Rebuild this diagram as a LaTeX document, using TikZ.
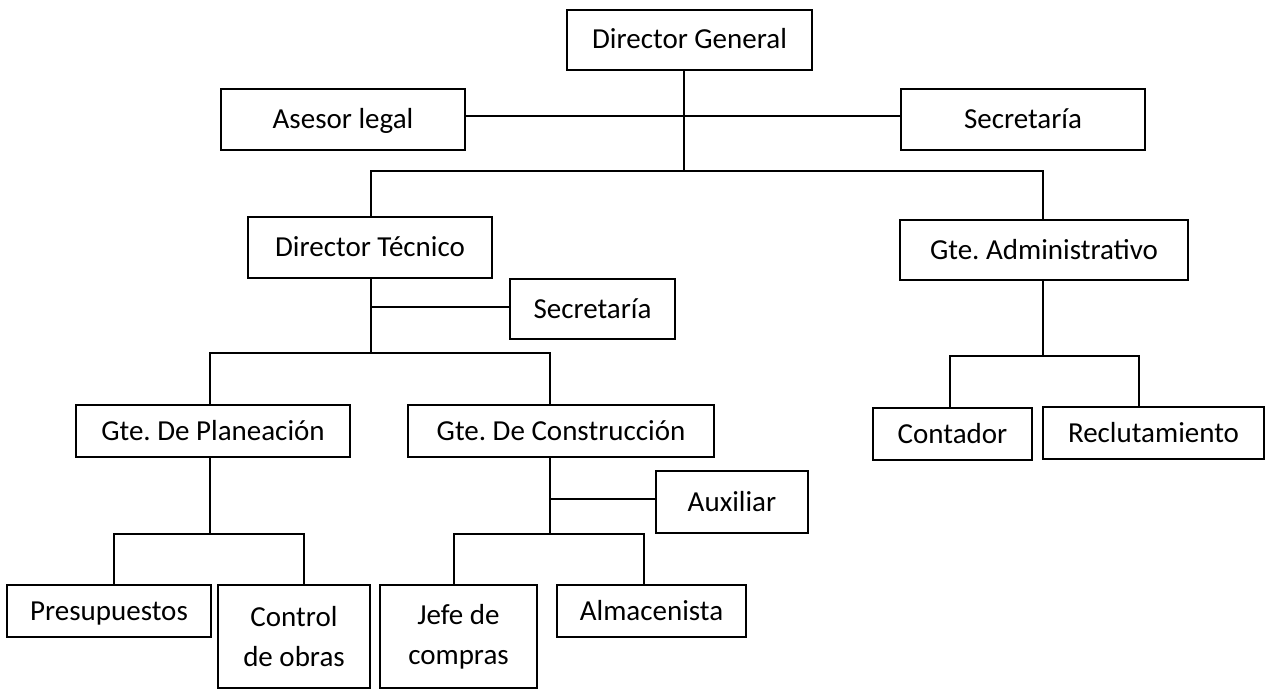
\documentclass[tikz,border=0pt]{standalone}
\usepackage{fontspec}
\setmainfont{Carlito}
\begin{document}
\frenchspacing
\begin{tikzpicture}[x=1pt,y=-1pt,
  box/.style={draw, line width=1.6pt, inner sep=0pt, align=center,
    font=\fontsize{29}{40}\selectfont\frenchspacing},
  one/.style={box, text height=21pt, text depth=3pt},
  conn/.style={line width=1.8pt}]
\useasboundingbox (0,0) rectangle (1265,690);
% boxes
\node[one, minimum width=245pt, minimum height=60pt] (dg) at (689.5,40) {Director General};
\node[one, minimum width=244pt, minimum height=61pt] (ase) at (343,119.5) {Asesor legal};
\node[one, minimum width=244pt, minimum height=61pt] (sec1) at (1023,119.5) {Secretaría};
\node[one, minimum width=244pt, minimum height=61pt] (dt) at (370,247.5) {Director Técnico};
\node[one, minimum width=288pt, minimum height=60pt] (ga) at (1044,250) {Gte. Administrativo};
\node[one, minimum width=165pt, minimum height=60pt] (sec2) at (592.5,309) {Secretaría};
\node[one, minimum width=274pt, minimum height=52pt] (pla) at (213,431) {Gte. De Planeación};
\node[one, minimum width=306pt, minimum height=52pt] (con) at (561,431) {Gte. De Construcción};
\node[one, minimum width=159pt, minimum height=52pt] (cont) at (952.5,434) {Contador};
\node[one, minimum width=221pt, minimum height=52pt] (rec) at (1153.5,433) {Reclutamiento};
\node[one, minimum width=204pt, minimum height=52pt] (pre) at (109,611) {Presupuestos};
\node[box, minimum width=152pt, minimum height=103pt] (ctrl) at (294,636.5) {Control\\de obras};
\node[one, minimum width=152pt, minimum height=62pt] (aux) at (732,502) {Auxiliar};
\node[box, minimum width=157pt, minimum height=103pt] (jefe) at (458.5,636.5) {Jefe de\\compras};
\node[one, minimum width=189pt, minimum height=52pt] (alm) at (651.5,611) {Almacenista};
% junctions
\coordinate (t1) at (684,171);
\coordinate (bl) at (371,171);
\coordinate (br) at (1043,171);
\coordinate (t2) at (371,353);
\coordinate (p1) at (210,353);
\coordinate (c1) at (550,353);
\coordinate (t3) at (1043,356);
\coordinate (a1) at (950,356);
\coordinate (a2) at (1139,356);
\coordinate (t4) at (210,534);
\coordinate (b1) at (114,534);
\coordinate (b2) at (304,534);
\coordinate (t5) at (550,534);
\coordinate (d1) at (454,534);
\coordinate (d2) at (644,534);
% connectors
\draw[conn] ([yshift=3.5pt]ase.east) -- ([yshift=3.5pt]sec1.west);
\draw[conn] (dg.south -| t1) -- (t1);
\draw[conn] (dt.north -| bl) -- (bl) -- (br) -- (ga.north -| br);
\draw[conn] (dt.south -| t2) -- (t2);
\draw[conn] ([yshift=2pt]t2 |- sec2.west) -- ([yshift=2pt]sec2.west);
\draw[conn] (pla.north -| p1) -- (p1) -- (c1) -- (con.north -| c1);
\draw[conn] (ga.south -| t3) -- (t3);
\draw[conn] (cont.north -| a1) -- (a1) -- (a2) -- (rec.north -| a2);
\draw[conn] (pla.south -| t4) -- (t4);
\draw[conn] (pre.north -| b1) -- (b1) -- (b2) -- (ctrl.north -| b2);
\draw[conn] (con.south -| t5) -- (t5);
\draw[conn] ([yshift=3pt]t5 |- aux.west) -- ([yshift=3pt]aux.west);
\draw[conn] (jefe.north -| d1) -- (d1) -- (d2) -- (alm.north -| d2);
\end{tikzpicture}
\end{document}
